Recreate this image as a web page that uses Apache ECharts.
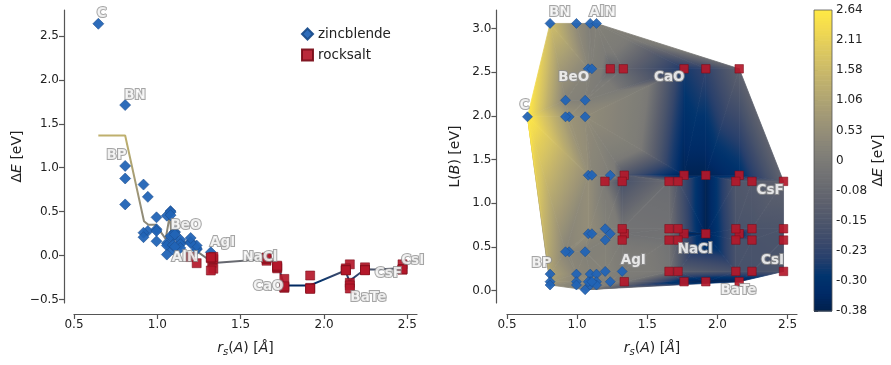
<!DOCTYPE html>
<html>
<head>
<meta charset="utf-8">
<script src="https://cdn.jsdelivr.net/npm/echarts@6/dist/echarts.min.js"></script>
<style>
  html, body { margin: 0; padding: 0; background: #fff; }
  #chart { width: 891px; height: 365px; }
</style>
</head>
<body>
<div id="chart"></div>
<script>
// compounds: rs(A) [Å], L(B) [eV], ΔE = E(RS) - E(ZB) [eV]
const names = [
  "CC", "SiC", "GeC", "SnC", "SiSi", "GeSi", "SnSi", "GeGe", "SnGe", "SnSn",
  "BN", "BP", "BAs", "BSb", "GaN", "GaP", "GaAs", "GaSb", "AlN", "AlP", "AlAs", "AlSb", "InN", "InP", "InAs", "InSb",
  "BeO", "BeS", "BeSe", "BeTe", "ZnO", "ZnS", "ZnSe", "ZnTe", "CdO", "CdS", "CdSe", "CdTe", "MgO", "MgS", "MgSe", "MgTe",
  "CaO", "CaS", "CaSe", "CaTe", "SrO", "SrS", "SrSe", "SrTe", "BaO", "BaS", "BaSe", "BaTe",
  "CuF", "CuCl", "CuBr", "CuI", "AgF", "AgCl", "AgBr", "AgI", "LiF", "LiCl", "LiBr", "LiI", "NaF", "NaCl", "NaBr", "NaI",
  "KF", "KCl", "KBr", "KI", "RbF", "RbCl", "RbBr", "RbI", "CsF", "CsCl", "CsBr", "CsI"
];
const rsA = [
  0.646, 0.943, 0.917, 1.057, 0.943, 0.917, 1.057, 0.917, 1.057, 1.057,
  0.807, 0.807, 0.807, 0.807, 0.995, 0.995, 0.995, 0.995, 1.093, 1.093, 1.093, 1.093, 1.138, 1.138, 1.138, 1.138,
  1.079, 1.079, 1.079, 1.079, 1.105, 1.105, 1.105, 1.105, 1.236, 1.236, 1.236, 1.236, 1.329, 1.336, 1.336, 1.336,
  1.762, 1.762, 1.762, 1.762, 1.917, 1.917, 1.917, 1.917, 2.155, 2.155, 2.155, 2.155,
  1.198, 1.2, 1.2, 1.2, 1.321, 1.321, 1.321, 1.321, 1.655, 1.655, 1.655, 1.655, 1.719, 1.719, 1.719, 1.719,
  2.131, 2.131, 2.131, 2.131, 2.246, 2.246, 2.246, 2.246, 2.471, 2.471, 2.471, 2.471
];
const lB = [
  1.99, 1.99, 1.99, 1.99, 0.443, 0.443, 0.443, 2.18, 2.18, 0.008,
  3.06, 0.187, 0.10, 0.062, 3.06, 0.187, 0.10, 0.062, 3.06, 0.187, 0.10, 0.062, 3.06, 0.187, 0.10, 0.062,
  2.54, 1.32, 0.65, 0.10, 2.54, 1.32, 0.65, 0.10, 2.54, 1.32, 0.65, 0.10, 2.54, 1.32, 0.65, 0.10,
  2.54, 1.32, 0.65, 0.10, 2.54, 1.32, 0.65, 0.10, 2.54, 1.32, 0.65, 0.10,
  1.25, 0.707, 0.577, 0.218, 1.25, 0.707, 0.577, 0.218, 1.25, 0.707, 0.577, 0.218, 1.25, 0.707, 0.577, 0.218,
  1.25, 0.707, 0.577, 0.218, 1.25, 0.707, 0.577, 0.218, 1.25, 0.707, 0.577, 0.218
];
const dE = [
  2.638, 0.668, 0.808, 0.454, 0.279, 0.26, 0.14, 0.209, 0.114, 0.011,
  1.713, 1.02, 0.877, 0.582, 0.435, 0.30, 0.28, 0.163, 0.07, 0.22, 0.21, 0.12, 0.15, 0.18, 0.13, 0.087,
  0.22, 0.506, 0.494, 0.46, 0.10, 0.27, 0.26, 0.24, -0.087, 0.07, 0.084, 0.114, -0.083, -0.15, -0.04, -0.015,
  -0.266, -0.367, -0.361, -0.35, -0.227, -0.368, -0.374, -0.38, -0.10, -0.31, -0.339, -0.375,
  -0.017, 0.156, 0.144, 0.2, -0.17, -0.03, -0.02, 0.037, -0.059, -0.038, -0.033, -0.022, -0.146, -0.133, -0.127, -0.115,
  -0.146, -0.165, -0.166, -0.168, -0.134, -0.161, -0.164, -0.168, -0.10, -0.156, -0.16, -0.156
];

// model curve on the left panel
const lineX = [0.646, 0.807, 0.92, 0.946, 0.99, 1.05, 1.06, 1.076, 1.086, 1.106, 1.126, 1.176, 1.216, 1.236, 1.296, 1.336,
  1.656, 1.696, 1.726, 1.756, 1.772, 1.916, 2.128, 2.152, 2.246, 2.3, 2.471];
const lineY = [1.367, 1.367, 0.39, 0.35, 0.35, 0.19, 0.18, 0.47, 0.16, 0.21, 0.16, 0.14, 0.10, 0.05, -0.03, -0.085,
  -0.04, -0.065, -0.12, -0.31, -0.34, -0.34, -0.17, -0.29, -0.155, -0.16, -0.145];

const leftLabelNames = ["C", "BN", "BP", "BeO", "AlN", "AgI", "NaCl", "CaO", "BaTe", "CsF", "CsI"];
const leftLabelX = [0.666, 0.866, 0.756, 1.172, 1.166, 1.392, 1.616, 1.666, 2.266, 2.386, 2.532];
const leftLabelY = [2.758, 1.818, 1.136, 0.341, -0.026, 0.151, -0.026, -0.356, -0.474, -0.205, -0.053];
const rightLabelNames = ["BN", "AlN", "BeO", "CaO", "C", "CsF", "NaCl", "AgI", "CsI", "BP", "BaTe"];
const rightLabelX = [0.876, 1.181, 0.976, 1.657, 0.624, 2.376, 1.841, 1.4, 2.393, 0.746, 2.15];
const rightLabelY = [3.183, 3.183, 2.439, 2.439, 2.123, 1.145, 0.474, 0.344, 0.344, 0.306, 0.0];

const xTicks = [0.5, 1.0, 1.5, 2.0, 2.5];
const leftYTicks = [-0.5, 0, 0.5, 1.0, 1.5, 2.0, 2.5];
const rightYTicks = [0, 0.5, 1.0, 1.5, 2.0, 2.5, 3.0];
const cbTickLabels = ["-0.38", "-0.30", "-0.23", "-0.15", "-0.08", "0", "0.53", "1.06", "1.58", "2.11", "2.64"];
const vMin = -0.38, vCenter = 0, vMax = 2.64;

// cividis
const cividisStops = [
  [0.0, 0, 32, 76], [0.058824, 0, 42, 102], [0.117647, 0, 52, 110], [0.176471, 39, 63, 108],
  [0.235294, 60, 74, 107], [0.294118, 76, 85, 107], [0.352941, 91, 95, 109], [0.411765, 104, 106, 112],
  [0.470588, 117, 117, 117], [0.529412, 131, 129, 120], [0.588235, 146, 140, 120], [0.647059, 161, 152, 118],
  [0.705882, 176, 165, 114], [0.764706, 192, 177, 109], [0.823529, 209, 191, 102], [0.882353, 225, 204, 92],
  [0.941176, 243, 219, 79], [1.0, 255, 233, 69]
];
function cmap(t) {
  t = Math.max(0, Math.min(1, t));
  for (let i = 1; i < cividisStops.length; i++) {
    const a = cividisStops[i - 1], b = cividisStops[i];
    if (t <= b[0]) {
      const f = (t - a[0]) / (b[0] - a[0]);
      const c = [1, 2, 3].map(k => Math.round(a[k] + f * (b[k] - a[k])));
      return `rgb(${c[0]},${c[1]},${c[2]})`;
    }
  }
  return "rgb(255,233,69)";
}
// two slope norm, centre at 0
function norm(v) {
  if (v >= vCenter) return 0.5 + 0.5 * (v - vCenter) / (vMax - vCenter);
  return 0.5 * (v - vMin) / (vCenter - vMin);
}
const valueColor = v => cmap(norm(v));

// plain Bowyer-Watson triangulation of the (rsA, lB) points
function delaunay(px, py) {
  const n = px.length;
  const minX = Math.min(...px), maxX = Math.max(...px), minY = Math.min(...py), maxY = Math.max(...py);
  const d = Math.max(maxX - minX, maxY - minY), mx = (minX + maxX) / 2, my = (minY + maxY) / 2;
  const X = px.concat([mx - 100 * d, mx, mx + 100 * d]);
  const Y = py.concat([my - 100 * d, my + 100 * d, my - 100 * d]);
  const circ = (a, b, c) => {
    const ax = X[a], ay = Y[a], bx = X[b], by = Y[b], cx = X[c], cy = Y[c];
    const D = 2 * (ax * (by - cy) + bx * (cy - ay) + cx * (ay - by));
    if (Math.abs(D) < 1e-14) return { a, b, c, ux: 0, uy: 0, r2: Infinity };
    const A2 = ax * ax + ay * ay, B2 = bx * bx + by * by, C2 = cx * cx + cy * cy;
    const ux = (A2 * (by - cy) + B2 * (cy - ay) + C2 * (ay - by)) / D;
    const uy = (A2 * (cx - bx) + B2 * (ax - cx) + C2 * (bx - ax)) / D;
    return { a, b, c, ux, uy, r2: (ax - ux) ** 2 + (ay - uy) ** 2 };
  };
  let tris = [circ(n, n + 1, n + 2)];
  for (let i = 0; i < n; i++) {
    const bad = [], keep = [];
    for (const t of tris) {
      ((X[i] - t.ux) ** 2 + (Y[i] - t.uy) ** 2 < t.r2 - 1e-12 ? bad : keep).push(t);
    }
    const edges = new Map();
    for (const t of bad) {
      for (const [p, q] of [[t.a, t.b], [t.b, t.c], [t.c, t.a]]) {
        const k = p < q ? p + "," + q : q + "," + p;
        edges.set(k, edges.has(k) ? null : [p, q]);
      }
    }
    for (const e of edges.values()) if (e) keep.push(circ(e[0], e[1], i));
    tris = keep;
  }
  return tris.filter(t => t.a < n && t.b < n && t.c < n).map(t => [t.a, t.b, t.c]);
}

const triangles = delaunay(rsA, lB).map(([a, b, c]) =>
  [rsA[a], lB[a], rsA[b], lB[b], rsA[c], lB[c], dE[a], dE[b], dE[c]]);

const zbData = [], rsData = [];
names.forEach((nm, i) => (dE[i] > 0 ? zbData : rsData).push({ name: nm, value: [rsA[i], dE[i]] }));
const zbMap = [], rsMap = [];
names.forEach((nm, i) => (dE[i] > 0 ? zbMap : rsMap).push({ name: nm, value: [rsA[i], lB[i]] }));

const nBands = 120;
const cbBands = Array.from({ length: nBands }, (_, k) => [0.5, (k + 0.5) * 10 / nBands]);
const lineColors = Array.from({ length: 61 }, (_, k) => valueColor(vMin + (vMax - vMin) * k / 60));

const FONT = "DejaVu Sans";
const ZB_STYLE = { color: "rgb(34,100,182)", borderColor: "#1a4d8c", borderWidth: 0.6, opacity: 0.95 };
const RS_STYLE = { color: "rgb(180,24,42)", borderColor: "#7a0d19", borderWidth: 0.6, opacity: 0.92 };
const LABEL_STYLE = {
  show: true, position: "inside", formatter: "{b}", color: "#fff", fontFamily: FONT,
  fontWeight: "bold", fontSize: 13.5, textBorderColor: "#8e8e8e", textBorderWidth: 2
};
const AXIS_COLOR = "#555";
const minus = v => (v < 0 ? "\u2212" + Math.abs(v).toFixed(1) : v.toFixed(1));

function axisBase(ticks) {
  return {
    type: "value",
    axisLine: { show: true, onZero: false, lineStyle: { color: AXIS_COLOR, width: 1.2 } },
    axisTick: { show: true, length: 5, customValues: ticks, lineStyle: { color: AXIS_COLOR, width: 1.2 } },
    axisLabel: { customValues: ticks, formatter: minus, fontSize: 12, color: "#222", fontFamily: FONT, margin: 5 },
    splitLine: { show: false }
  };
}
const nameRich = {
  n: { fontSize: 14, color: "#222", fontFamily: FONT },
  i: { fontSize: 14, color: "#222", fontFamily: FONT, fontStyle: "italic" },
  s: { fontSize: 10, color: "#222", fontFamily: FONT, fontStyle: "italic", padding: [7, 0, 0, 0] }
};
const rsName = "{i|r}{s|s}{n|(}{i|A}{n|) [}{i|Å}{n|]}";

const chart = echarts.init(document.getElementById("chart"));
chart.setOption({
  animation: false,
  textStyle: { fontFamily: FONT },
  grid: [
    { left: 74, top: 10, width: 343, height: 293 },
    { left: 507, top: 10, width: 290, height: 293 },
    { left: 814, top: 10, width: 18, height: 301, show: true, borderColor: "#555", borderWidth: 0.8, z: 5 }
  ],
  legend: {
    data: ["zincblende", "rocksalt"], left: 296, top: 22, orient: "vertical",
    itemWidth: 11, itemHeight: 11, itemGap: 7,
    textStyle: { fontSize: 13.5, color: "#222", fontFamily: FONT }
  },
  visualMap: {
    type: "continuous", show: false, seriesIndex: 0, dimension: 1,
    min: vMin, max: vMax, inRange: { color: lineColors }
  },
  xAxis: [
    Object.assign(axisBase(xTicks), { gridIndex: 0, min: 0.5, max: 2.558, offset: 11,
      name: rsName, nameLocation: "middle", nameGap: 26, nameTextStyle: { rich: nameRich } }),
    Object.assign(axisBase(xTicks), { gridIndex: 1, min: 0.5, max: 2.567, offset: 11,
      name: rsName, nameLocation: "middle", nameGap: 26, nameTextStyle: { rich: nameRich } }),
    { type: "value", gridIndex: 2, min: 0, max: 1, show: false }
  ],
  yAxis: [
    Object.assign(axisBase(leftYTicks), { gridIndex: 0, min: -0.54, max: 2.795, offset: 10,
      name: "{n|Δ}{i|E}{n| [eV]}", nameLocation: "middle", nameGap: 40, nameTextStyle: { rich: nameRich } }),
    Object.assign(axisBase(rightYTicks), { gridIndex: 1, min: -0.144, max: 3.214, offset: 10.6,
      name: "{n|L(}{i|B}{n|) [eV]}", nameLocation: "middle", nameGap: 34, nameTextStyle: { rich: nameRich } }),
    {
      type: "value", gridIndex: 2, min: 0, max: 10, position: "right",
      axisLine: { show: false },
      axisTick: { show: true, length: 4, customValues: cbTickLabels.map((_, k) => k), lineStyle: { color: AXIS_COLOR } },
      axisLabel: { customValues: cbTickLabels.map((_, k) => k), formatter: v => cbTickLabels[Math.round(v)],
        fontSize: 12, color: "#222", fontFamily: FONT, margin: 4 },
      splitLine: { show: false },
      name: "{n|Δ}{i|E}{n| [eV]}", nameLocation: "middle", nameGap: 38, nameRotate: 90,
      nameTextStyle: { rich: nameRich }
    }
  ],
  series: [
    {
      type: "line", xAxisIndex: 0, yAxisIndex: 0, data: lineX.map((x, i) => [x, lineY[i]]),
      showSymbol: false, lineStyle: { width: 2 }, z: 2
    },
    { name: "zincblende", type: "scatter", xAxisIndex: 0, yAxisIndex: 0, symbol: "diamond", symbolSize: 11,
      data: zbData, itemStyle: ZB_STYLE, z: 3 },
    { name: "rocksalt", type: "scatter", xAxisIndex: 0, yAxisIndex: 0, symbol: "rect", symbolSize: 9,
      data: rsData, itemStyle: RS_STYLE, z: 3 },
    { name: "labelsLeft", type: "scatter", xAxisIndex: 0, yAxisIndex: 0, symbolSize: 1,
      itemStyle: { color: "rgba(0,0,0,0)" }, label: LABEL_STYLE, z: 4,
      data: leftLabelNames.map((nm, i) => ({ name: nm, value: [leftLabelX[i], leftLabelY[i]] })) },
    {
      name: "surface", type: "custom", xAxisIndex: 1, yAxisIndex: 1, data: triangles, z: 1,
      encode: { x: [0, 2, 4], y: [1, 3, 5] },
      renderItem: (params, api) => {
        const P = [0, 1, 2].map(k => api.coord([api.value(2 * k), api.value(2 * k + 1)]));
        const V = [api.value(6), api.value(7), api.value(8)];
        const d1 = [P[1][0] - P[0][0], P[1][1] - P[0][1]], d2 = [P[2][0] - P[0][0], P[2][1] - P[0][1]];
        const det = d1[0] * d2[1] - d1[1] * d2[0];
        if (Math.abs(det) < 1e-6) return;
        const dv1 = V[1] - V[0], dv2 = V[2] - V[0];
        const gx = (dv1 * d2[1] - dv2 * d1[1]) / det, gy = (d1[0] * dv2 - d2[0] * dv1) / det;
        const lo = Math.min(...V), hi = Math.max(...V), g2 = gx * gx + gy * gy;
        let fill;
        if (hi - lo < 1e-9 || g2 < 1e-18) {
          fill = valueColor(lo);
        } else {
          const S = P[V.indexOf(lo)];
          const E = [S[0] + gx * (hi - lo) / g2, S[1] + gy * (hi - lo) / g2];
          const stops = [];
          for (let k = 0; k <= 16; k++) stops.push({ offset: k / 16, color: valueColor(lo + (hi - lo) * k / 16) });
          fill = new echarts.graphic.LinearGradient(S[0], S[1], E[0], E[1], stops, true);
        }
        return { type: "polygon", shape: { points: P }, style: { fill: fill, stroke: fill, lineWidth: 0.8 } };
      }
    },
    { name: "zincblende", type: "scatter", xAxisIndex: 1, yAxisIndex: 1, symbol: "diamond", symbolSize: 10,
      data: zbMap, itemStyle: ZB_STYLE, z: 3 },
    { name: "rocksalt", type: "scatter", xAxisIndex: 1, yAxisIndex: 1, symbol: "rect", symbolSize: 8.5,
      data: rsMap, itemStyle: RS_STYLE, z: 3 },
    { name: "labelsRight", type: "scatter", xAxisIndex: 1, yAxisIndex: 1, symbolSize: 1,
      itemStyle: { color: "rgba(0,0,0,0)" }, label: LABEL_STYLE, z: 4,
      data: rightLabelNames.map((nm, i) => ({ name: nm, value: [rightLabelX[i], rightLabelY[i]] })) },
    {
      name: "colorbar", type: "custom", xAxisIndex: 2, yAxisIndex: 2, data: cbBands, z: 1,
      renderItem: (params, api) => {
        const h = 10 / nBands, yc = api.value(1);
        const tl = api.coord([0, yc + h / 2]), br = api.coord([1, yc - h / 2]);
        return { type: "rect", shape: { x: tl[0], y: tl[1], width: br[0] - tl[0], height: br[1] - tl[1] + 0.6 },
          style: { fill: cmap(yc / 10) } };
      }
    }
  ]
});
</script>
</body>
</html>
